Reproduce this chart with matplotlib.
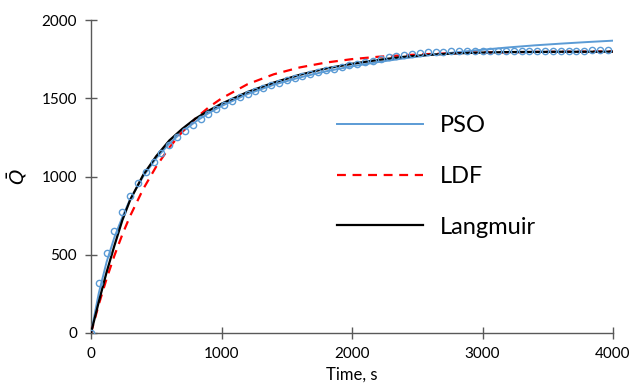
import matplotlib
matplotlib.use("Agg")
import matplotlib.pyplot as plt

# Experimental data (open circles)
t_exp = list(range(0, 3961, 60))
q_exp = [0, 317, 509, 654, 775, 875, 956, 1031, 1095, 1152, 1201, 1250, 1293, 1329,
         1365, 1397, 1429, 1457, 1482, 1506, 1527, 1546, 1567, 1585, 1600, 1617, 1632,
         1645, 1657, 1668, 1679, 1690, 1700, 1711, 1721, 1731, 1741, 1751, 1761, 1770,
         1778, 1784, 1789, 1793, 1796, 1798, 1799, 1800, 1800, 1801, 1801, 1801, 1802,
         1802, 1802, 1803, 1803, 1803, 1804, 1804, 1804, 1805, 1805, 1805, 1806, 1806, 1806]

# Model curves
t_mod = [0, 60, 120, 180, 240, 300, 400, 500, 600, 700, 800, 900, 1000, 1200, 1400,
         1600, 1800, 2000, 2200, 2400, 2600, 2800, 3000, 3200, 3400, 3600, 3800, 4000]
q_pso = [0, 256, 455, 613, 740, 855, 1000, 1117, 1210, 1286, 1350, 1404, 1450, 1527,
         1586, 1633, 1672, 1704, 1731, 1755, 1776, 1794, 1810, 1825, 1838, 1849, 1859, 1868]
q_ldf = [0, 183, 348, 496, 629, 748, 920, 1064, 1185, 1286, 1370, 1441, 1499, 1590,
         1653, 1697, 1728, 1750, 1765, 1775, 1783, 1788, 1792, 1794, 1796, 1797, 1798, 1799]
q_lang = [0, 200, 390, 560, 720, 850, 1010, 1130, 1230, 1305, 1370, 1420, 1465, 1540,
          1600, 1650, 1690, 1720, 1745, 1765, 1778, 1787, 1792, 1795, 1796, 1797, 1797, 1798]

x_ticks = [0, 1000, 2000, 3000, 4000]
y_ticks = [0, 500, 1000, 1500, 2000]

plt.rcParams['font.family'] = ['Lato', 'DejaVu Sans']

fig = plt.figure(figsize=(6.33, 3.88), dpi=100)
ax = fig.add_axes([91/633, 1-333/388, 522/633, 313/388])

blue = '#5B9BD5'
ax.plot(t_exp, q_exp, linestyle='none', marker='o', markersize=4.5,
        markerfacecolor='none', markeredgecolor=blue, markeredgewidth=1.0, zorder=4)
ax.plot(t_mod, q_pso, color=blue, lw=1.4, label='PSO', zorder=3)
ax.plot(t_mod, q_ldf, color='#FF0000', lw=1.6, ls=(0, (4, 3)), label='LDF', zorder=3)
ax.plot(t_mod, q_lang, color='black', lw=1.6, label='Langmuir', zorder=3)

ax.set_xlim(0, 4000)
ax.set_ylim(0, 2000)
ax.set_xticks(x_ticks)
ax.set_yticks(y_ticks)
ax.tick_params(direction='inout', length=8, width=1, labelsize=11, colors='black', pad=6)
for s in ['top', 'right']:
    ax.spines[s].set_visible(False)
for s in ['left', 'bottom']:
    ax.spines[s].set_color('#595959')
    ax.spines[s].set_linewidth(1)
ax.tick_params(color='#595959')

ax.set_xlabel('Time, s', fontsize=12, labelpad=4)
ax.set_ylabel(r'$\bar{Q}$', fontsize=14, labelpad=9)

leg = ax.legend(loc='center left', bbox_to_anchor=(0.471, 0.50), frameon=False,
                fontsize=17, handlelength=3.65, labelspacing=1.25, handletextpad=0.72,
                borderpad=0, borderaxespad=0)

fig.savefig('out.png', dpi=100)
